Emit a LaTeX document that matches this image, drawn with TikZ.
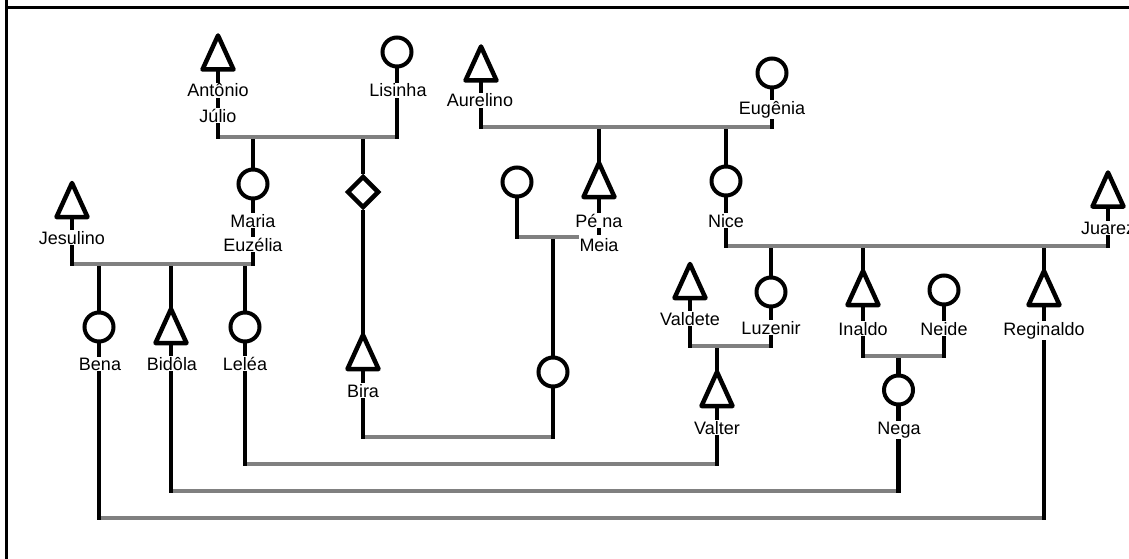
\documentclass[tikz,border=0pt]{standalone}
\usepackage{fontspec}
\setmainfont{Liberation Sans}
\usetikzlibrary{shapes.geometric}
\definecolor{barGray}{HTML}{808080}
\begin{document}
\begin{tikzpicture}[x=1pt,y=-1pt,
  lbl/.style={fill=white, inner xsep=1pt, inner ysep=1pt, anchor=base, font=\fontsize{18}{18}\selectfont},
  maleslot/.style={rectangle, minimum width=31pt, minimum height=34pt, inner sep=0pt, outer sep=0pt},
  fem/.style={circle, draw, fill=white, line width=4pt, minimum size=29pt, inner sep=0pt},
  unk/.style={diamond, draw, fill=white, line width=4.5pt, minimum width=32pt, minimum height=32pt, inner sep=0pt},
  tri/.style={draw, fill=white, line width=4.5pt, line join=round},
  kin/.style={line width=4.5pt},
  stub/.style={line width=4.5pt, line cap=rect},
  bar/.style={line width=4.5pt, draw=barGray},
  frameline/.style={line width=2.2pt}]
\useasboundingbox (0,0) rectangle (1129,559);
\clip (0,0) rectangle (1129,559);
% frame
\draw[frameline] (6.5,0) -- (6.5,559);
\draw[frameline] (5.4,7.5) -- (1129,7.5);
% bar levels
\coordinate (b1) at (0,137);
\coordinate (b2) at (0,264);
\coordinate (b3) at (0,127);
\coordinate (b4) at (0,237);
\coordinate (b5) at (0,246);
\coordinate (b6) at (0,346);
\coordinate (b7) at (0,356);
\coordinate (b8) at (0,437);
\coordinate (b9) at (0,464);
\coordinate (b10) at (0,491);
\coordinate (b11) at (0,518);
% males (slots)
\node[maleslot] (antonio) at (218,52.5) {};
\node[maleslot] (jesulino) at (72,200) {};
\node[maleslot] (aurelino) at (481,63.5) {};
\node[maleslot] (pena) at (599,180) {};
\node[maleslot] (juarez) at (1108,189.5) {};
\node[maleslot] (bidola) at (171,326) {};
\node[maleslot] (bira) at (363,352) {};
\node[maleslot] (valdete) at (690,281) {};
\node[maleslot] (valter) at (717,389) {};
\node[maleslot] (inaldo) at (863,288) {};
\node[maleslot] (reginaldo) at (1044,288) {};
% females
\node[fem] (lisinha) at (397,52) {};
\node[fem] (maria) at (253,184) {};
\node[fem] (eugenia) at (772,73) {};
\node[fem] (pmwife) at (517,182) {};
\node[fem] (nice) at (726,181) {};
\node[fem] (bena) at (99,327) {};
\node[fem] (lelea) at (245,327) {};
\node[fem] (luzenir) at (771,292) {};
\node[fem] (neide) at (944,290) {};
\node[fem] (nega) at (898.5,390) {};
\node[fem] (pmchild) at (553,372) {};
% unknown sex
\node[unk] (unkchild) at (363,192) {};
% descent lines
\draw[kin] (maria.north |- b1) -- (maria.north);
\draw[kin] (unkchild.north |- b1) -- (unkchild.north);
\draw[kin] (unkchild.south) -- (bira.north);
\draw[kin] (bena.north |- b2) -- (bena.north);
\draw[kin] (bidola.north |- b2) -- (bidola.north);
\draw[kin] (lelea.north |- b2) -- (lelea.north);
\draw[kin] (pena.north |- b3) -- (pena.north);
\draw[kin] (nice.north |- b3) -- (nice.north);
\draw[kin] (pmchild.north |- b4) -- (pmchild.north);
\draw[kin] (luzenir.north |- b5) -- (luzenir.north);
\draw[kin] (inaldo.north |- b5) -- (inaldo.north);
\draw[kin] (reginaldo.north |- b5) -- (reginaldo.north);
\draw[kin] (valter.north |- b6) -- (valter.north);
\draw[kin] (nega.north |- b7) -- (nega.north);
% marriage bars
\draw[bar] (antonio.south |- b1) -- (lisinha.south |- b1);
\draw[bar] (jesulino.south |- b2) -- (maria.south |- b2);
\draw[bar] (aurelino.south |- b3) -- (eugenia.south |- b3);
\draw[bar] (pmwife.south |- b4) -- (pena.south |- b4);
\draw[bar] (nice.south |- b5) -- (juarez.south |- b5);
\draw[bar] (valdete.south |- b6) -- (luzenir.south |- b6);
\draw[bar] (inaldo.south |- b7) -- (neide.south |- b7);
\draw[bar] (bira.south |- b8) -- (pmchild.south |- b8);
\draw[bar] (lelea.south |- b9) -- (valter.south |- b9);
\draw[bar] (bidola.south |- b10) -- (nega.south |- b10);
\draw[bar] (bena.south |- b11) -- (reginaldo.south |- b11);
% spouse stubs
\draw[stub] (antonio.south) -- (antonio.south |- b1);
\draw[stub] (lisinha.south) -- (lisinha.south |- b1);
\draw[stub] (jesulino.south) -- (jesulino.south |- b2);
\draw[stub] (maria.south) -- (maria.south |- b2);
\draw[stub] (aurelino.south) -- (aurelino.south |- b3);
\draw[stub] (eugenia.south) -- (eugenia.south |- b3);
\draw[stub] (pmwife.south) -- (pmwife.south |- b4);
\draw[stub] (pena.south) -- (pena.south |- b4);
\draw[stub] (nice.south) -- (nice.south |- b5);
\draw[stub] (juarez.south) -- (juarez.south |- b5);
\draw[stub] (valdete.south) -- (valdete.south |- b6);
\draw[stub] (luzenir.south) -- (luzenir.south |- b6);
\draw[stub] (inaldo.south) -- (inaldo.south |- b7);
\draw[stub] (neide.south) -- (neide.south |- b7);
\draw[stub] (bira.south) -- (bira.south |- b8);
\draw[stub] (pmchild.south) -- (pmchild.south |- b8);
\draw[stub] (lelea.south) -- (lelea.south |- b9);
\draw[stub] (valter.south) -- (valter.south |- b9);
\draw[stub] (bidola.south) -- (bidola.south |- b10);
\draw[stub] (nega.south) -- (nega.south |- b10);
\draw[stub] (bena.south) -- (bena.south |- b11);
\draw[stub] (reginaldo.south) -- (reginaldo.south |- b11);
% triangles
\foreach \n in {antonio,jesulino,aurelino,pena,juarez,bidola,bira,valdete,valter,inaldo,reginaldo}
  \draw[tri] (\n.north) -- (\n.south east) -- (\n.south west) -- cycle;
% labels
\node[lbl] (lantonio) at (218,97) {Antônio};
\node[lbl] (ljulio) at (218,122) {Júlio};
\node[lbl] (llisinha) at (398,97) {Lisinha};
\node[lbl] (ljesulino) at (72,244) {Jesulino};
\node[lbl] (lmaria) at (253,227) {Maria};
\node[lbl] (leuzelia) at (253,251) {Euzélia};
\node[lbl] (laurelino) at (480,107) {Aurelino};
\node[lbl] (leugenia) at (772,114) {Eugênia};
\node[lbl] (lpena) at (599,227) {Pé na};
\node[lbl, inner ysep=3pt] (lmeia) at (599,251) {Meia};
\node[lbl] (lnice) at (726,227) {Nice};
\node[lbl] (ljuarez) at (1108,234) {Juarez};
\node[lbl] (lbena) at (100,370) {Bena};
\node[lbl] (lbidola) at (172,370) {Bidôla};
\node[lbl] (llelea) at (245,370) {Leléa};
\node[lbl] (lbira) at (363,397) {Bira};
\node[lbl] (lvaldete) at (690,325) {Valdete};
\node[lbl] (lluzenir) at (771,334) {Luzenir};
\node[lbl] (linaldo) at (863,335) {Inaldo};
\node[lbl] (lneide) at (944,335) {Neide};
\node[lbl] (lreginaldo) at (1044,335) {Reginaldo};
\node[lbl] (lvalter) at (717,434) {Valter};
\node[lbl] (lnega) at (899,434) {Nega};
\end{tikzpicture}
\end{document}
